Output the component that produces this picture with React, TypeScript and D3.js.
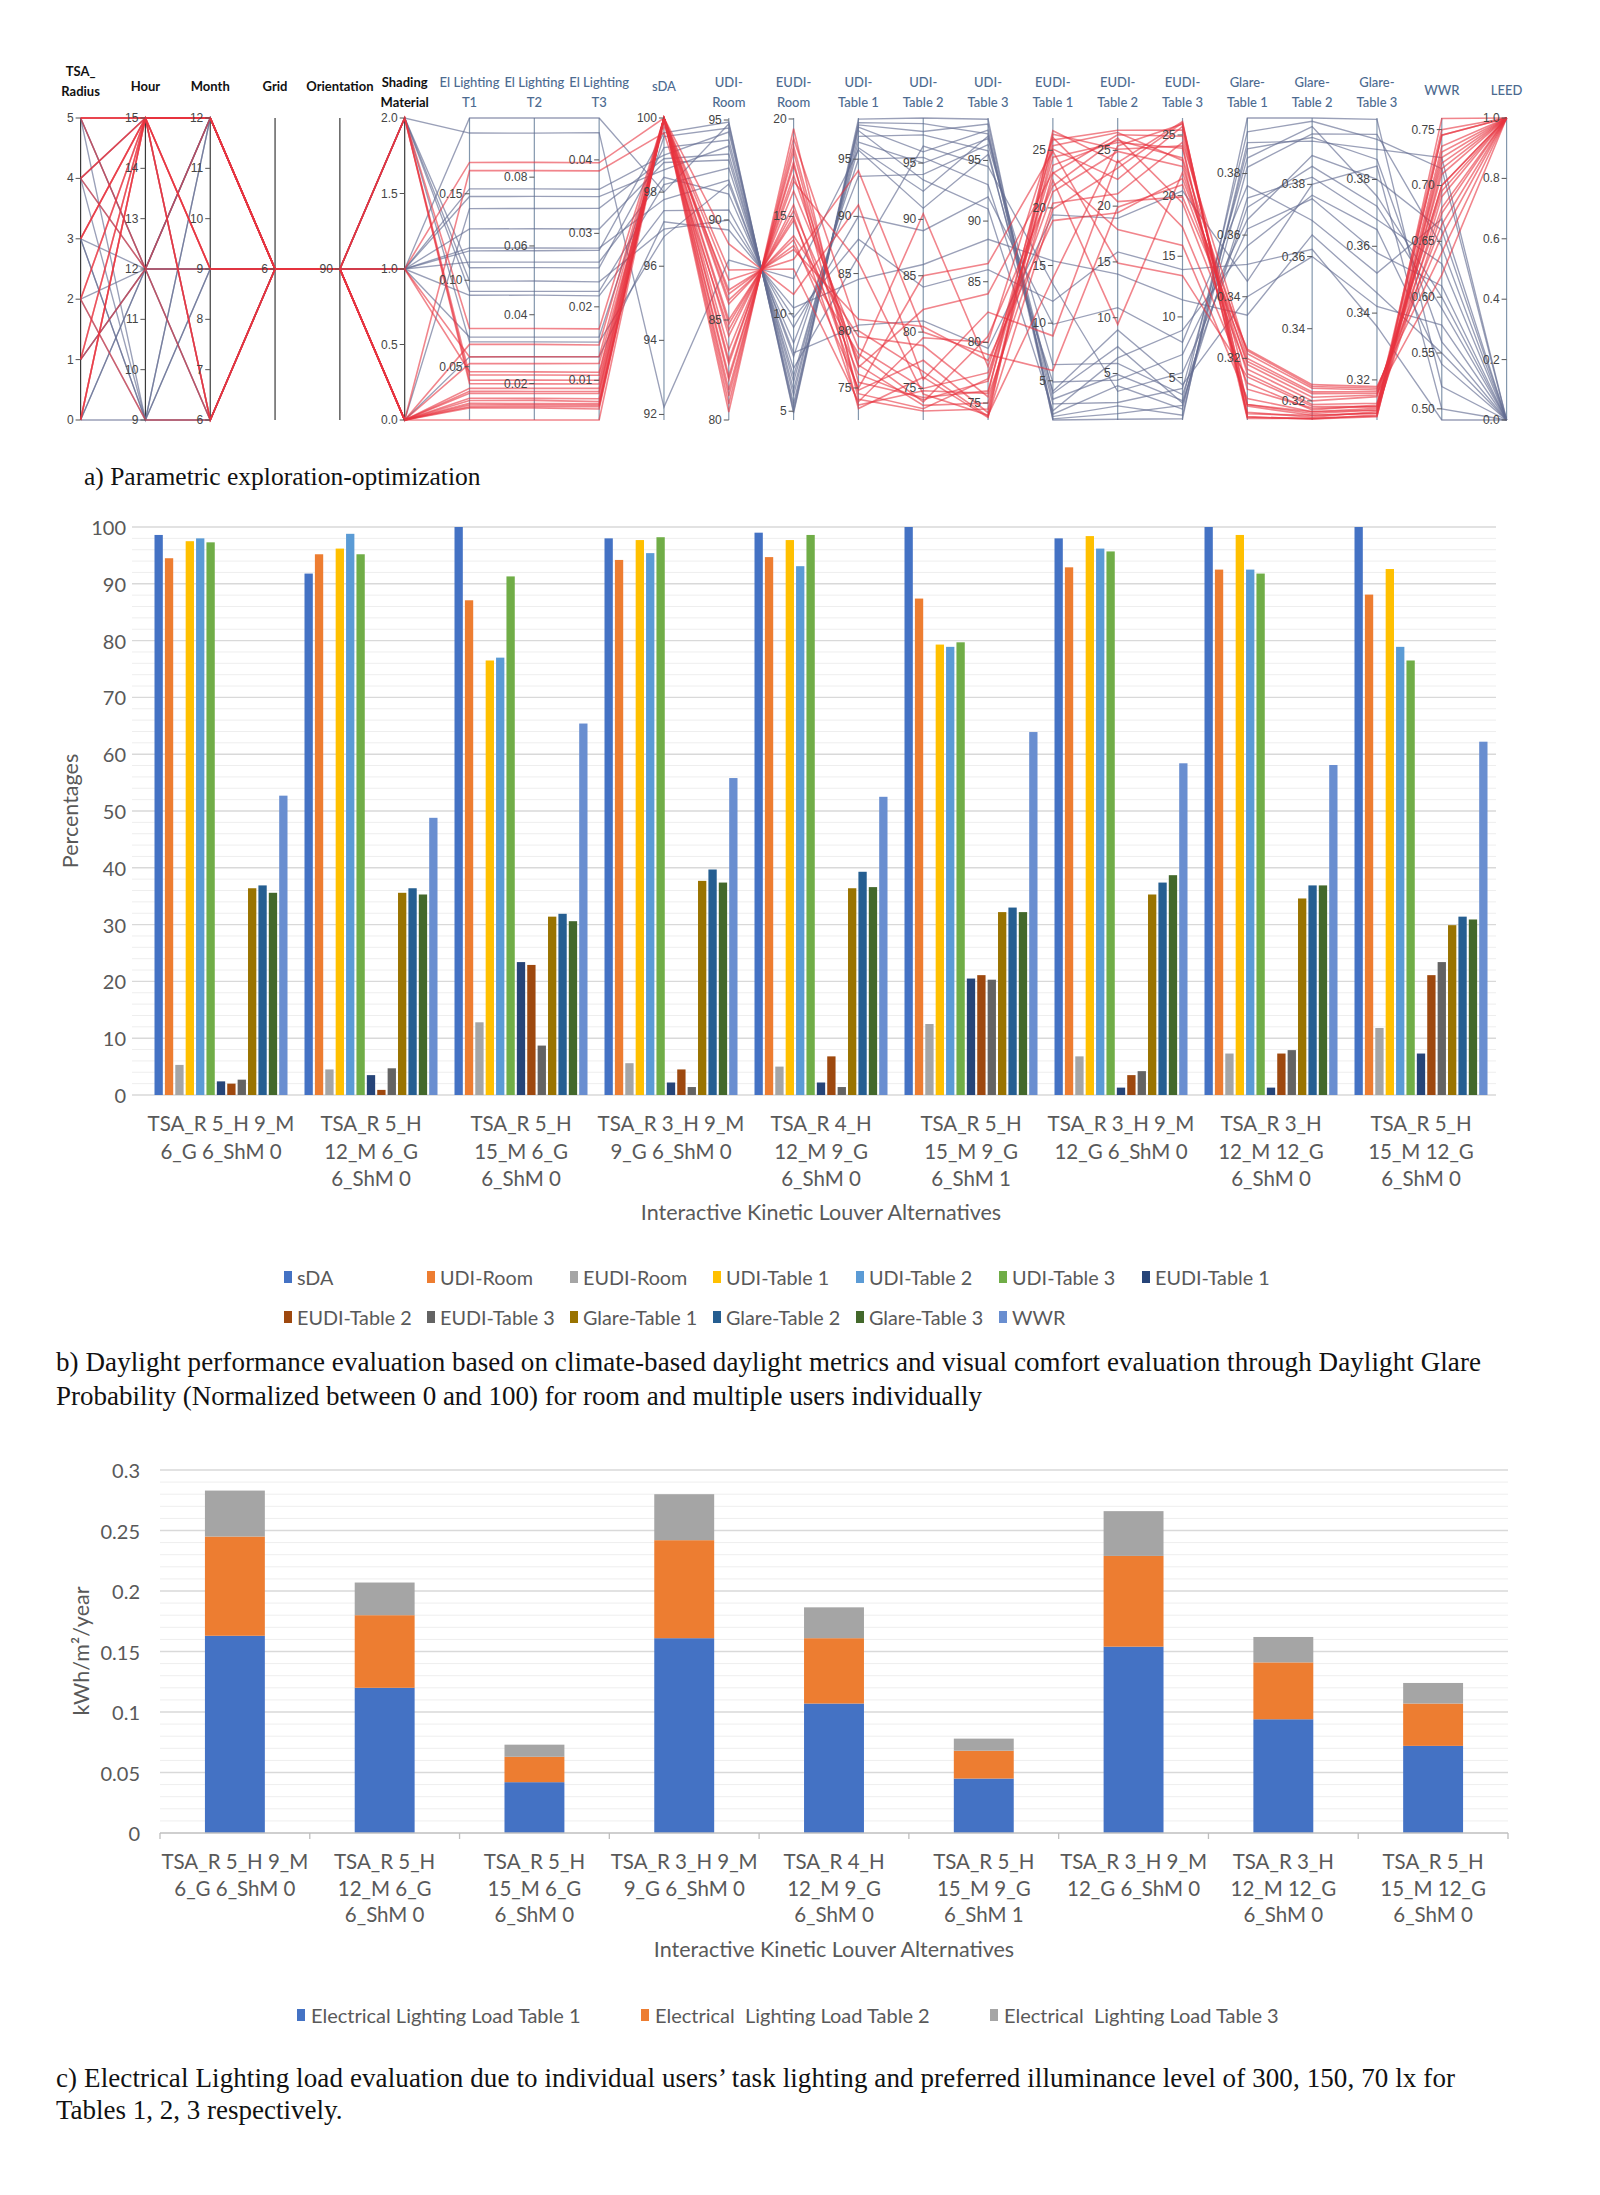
import React from 'react';
import * as d3 from 'd3';

// ---------------- Panel a: parallel coordinates ----------------
const pcLabels = [
  'TSA_\nRadius', 'Hour', 'Month', 'Grid', 'Orientation', 'Shading\nMaterial',
  'El Lighting\nT1', 'El Lighting\nT2', 'El Lighting\nT3', 'sDA', 'UDI-\nRoom', 'EUDI-\nRoom',
  'UDI-\nTable 1', 'UDI-\nTable 2', 'UDI-\nTable 3', 'EUDI-\nTable 1', 'EUDI-\nTable 2', 'EUDI-\nTable 3',
  'Glare-\nTable 1', 'Glare-\nTable 2', 'Glare-\nTable 3', 'WWR', 'LEED',
];
const pcDomains: [number, number][] = [
  [0, 5], [9, 15], [6, 12], [5, 7], [89, 91], [0, 2],
  [0.0192, 0.1938], [0.0094, 0.0972], [0.0046, 0.0457], [91.85, 100], [80, 95.1], [4.55, 20.05],
  [72.2, 98.6], [72.2, 99.0], [73.6, 98.5], [1.6, 27.8], [0.83, 27.9], [1.5, 26.4],
  [0.3, 0.398], [0.3147, 0.3984], [0.308, 0.3984], [0.49, 0.7604], [0, 1],
];
const pcTicks: number[][] = [
  [0, 1, 2, 3, 4, 5], [9, 10, 11, 12, 13, 14, 15], [6, 7, 8, 9, 10, 11, 12], [6], [90], [0, 0.5, 1, 1.5, 2],
  [0.05, 0.1, 0.15], [0.02, 0.04, 0.06, 0.08], [0.01, 0.02, 0.03, 0.04], [92, 94, 96, 98, 100], [80, 85, 90, 95], [5, 10, 15, 20],
  [75, 80, 85, 90, 95], [75, 80, 85, 90, 95], [75, 80, 85, 90, 95], [5, 10, 15, 20, 25], [5, 10, 15, 20, 25], [5, 10, 15, 20, 25],
  [0.32, 0.34, 0.36, 0.38], [0.32, 0.34, 0.36, 0.38], [0.32, 0.34, 0.36, 0.38], [0.5, 0.55, 0.6, 0.65, 0.7, 0.75], [0, 0.2, 0.4, 0.6, 0.8, 1],
];
const pcTickFormats = ['d', 'd', 'd', 'd', 'd', '.1f', '.2f', '.2f', '.2f', 'd', 'd', 'd', 'd', 'd', 'd', 'd', 'd', 'd', '.2f', '.2f', '.2f', '.2f', '.1f'];

// 20 LEED=1 designs followed by 16 LEED=0 designs
const tsaRadius = [5, 4, 3, 2, 1, 0, 5, 4, 3, 2, 1, 0, 5, 5, 3, 2, 4, 1, 0, 5, 5, 4, 3, 2, 1, 0, 5, 4, 3, 2, 1, 0, 5, 4, 3, 0];
const hourVals = [15, 15, 15, 15, 15, 15, 15, 15, 15, 15, 12, 15, 15, 12, 15, 9, 12, 15, 15, 15, 12, 12, 12, 12, 12, 12, 9, 9, 9, 9, 12, 9, 12, 15, 9, 12];
const monthVals = [12, 12, 9, 12, 6, 12, 9, 12, 6, 9, 12, 6, 12, 6, 12, 6, 9, 12, 9, 12, 9, 9, 12, 6, 9, 12, 6, 12, 9, 6, 12, 9, 12, 6, 12, 6];
const gridVals = [6, 6, 6, 6, 6, 6, 6, 6, 6, 6, 6, 6, 6, 6, 6, 6, 6, 6, 6, 6, 6, 6, 6, 6, 6, 6, 6, 6, 6, 6, 6, 6, 6, 6, 6, 6];
const orientationVals = [90, 90, 90, 90, 90, 90, 90, 90, 90, 90, 90, 90, 90, 90, 90, 90, 90, 90, 90, 90, 90, 90, 90, 90, 90, 90, 90, 90, 90, 90, 90, 90, 90, 90, 90, 90];
const shadingMaterial = [0, 0, 0, 0, 0, 0, 2, 2, 0, 1, 0, 2, 0, 1, 0, 0, 1, 2, 0, 0, 1, 1, 1, 1, 1, 1, 2, 2, 1, 1, 2, 0, 2, 0, 1, 2];
const elLightT1 = [0.0192, 0.0269, 0.0288, 0.0318, 0.0346, 0.0375, 0.0422, 0.0452, 0.0518, 0.0557, 0.0629, 0.0721, 0.1634, 0.1681, 0.0279, 0.0262, 0.0471, 0.0402, 0.0305, 0.0358,
  0.1938, 0.1528, 0.1484, 0.1297, 0.1187, 0.1105, 0.1072, 0.0936, 0.0913, 0.0672, 0.0644, 0.0557, 0.1851, 0.1414, 0.117, 0.0995];
const elLightT2 = [0.0094, 0.0133, 0.0142, 0.0157, 0.0171, 0.0186, 0.021, 0.0225, 0.0258, 0.0278, 0.0314, 0.036, 0.0819, 0.0843, 0.0138, 0.0129, 0.0234, 0.0199, 0.0151, 0.0177,
  0.0972, 0.0766, 0.0744, 0.065, 0.0594, 0.0553, 0.0537, 0.0468, 0.0457, 0.0335, 0.0321, 0.0278, 0.0928, 0.0709, 0.0586, 0.0498];
const elLightT3 = [0.0046, 0.0064, 0.0068, 0.0075, 0.0082, 0.0089, 0.01, 0.0107, 0.0123, 0.0132, 0.0148, 0.017, 0.0385, 0.0396, 0.0066, 0.0061, 0.0111, 0.0095, 0.0071, 0.0085,
  0.0457, 0.036, 0.035, 0.0306, 0.028, 0.0261, 0.0253, 0.0221, 0.0215, 0.0159, 0.0152, 0.0132, 0.0437, 0.0334, 0.0277, 0.0234];
const sdaVals = [100, 100, 100, 100, 100, 100, 100, 100, 99.8, 100, 100, 100, 99.6, 100, 100, 100, 100, 100, 100, 100,
  98.0, 99.0, 98.6, 98.8, 97.8, 98.4, 99.2, 98.2, 97.5, 99.5, 96.8, 97.2, 92.2, 98.9, 99.6, 97.0];
const udiRoom = [80.4, 81.2, 82.0, 82.8, 83.5, 84.2, 85.0, 85.8, 86.5, 87.5, 88.8, 86.0, 84.5, 83.0, 81.5, 80.8, 87.0, 82.2, 84.8, 86.3,
  94.8, 94.4, 93.7, 93.0, 92.0, 91.3, 94.0, 92.6, 90.5, 94.6, 91.8, 89.5, 88.0, 93.3, 94.9, 90.0];
const eudiRoom = [19.5, 18.6, 17.8, 17.1, 16.3, 15.6, 14.8, 14.0, 13.3, 12.3, 11.0, 13.8, 15.3, 16.8, 18.3, 19.0, 12.8, 17.6, 15.0, 13.5,
  5.0, 5.4, 6.1, 6.8, 7.8, 8.5, 5.8, 7.2, 9.3, 5.2, 8.0, 10.3, 11.8, 6.5, 4.9, 9.8];
const udiT1 = [74.0, 75.5, 73.2, 77.0, 78.5, 74.8, 76.2, 79.5, 81.0, 73.8, 91.0, 75.0, 77.5, 86.0, 74.5, 80.0, 94.0, 76.8, 73.5, 78.0,
  98.5, 97.8, 97.0, 96.0, 95.0, 93.5, 97.5, 86.5, 90.0, 98.0, 80.5, 84.5, 95.8, 96.5, 98.2, 88.0];
const udiT2 = [73.0, 74.2, 76.0, 73.5, 75.0, 77.5, 74.0, 78.8, 80.5, 79.5, 75.8, 85.0, 90.5, 74.5, 73.2, 76.5, 80.0, 82.0, 74.8, 73.8,
  99.0, 96.0, 97.5, 92.5, 95.5, 94.0, 93.5, 96.5, 89.0, 97.8, 81.0, 86.0, 91.0, 95.0, 98.5, 84.0];
const udiT3 = [74.5, 76.0, 73.8, 75.0, 77.5, 74.2, 76.8, 75.5, 78.5, 80.0, 82.5, 86.5, 78.0, 74.0, 77.0, 73.9, 79.0, 84.0, 75.8, 80.5,
  98.4, 97.5, 95.8, 97.0, 93.0, 96.3, 91.0, 94.5, 92.0, 98.0, 79.5, 88.5, 95.5, 96.8, 97.2, 86.0];
const eudiT1 = [25.9, 24.4, 26.7, 23.0, 21.4, 25.1, 23.7, 20.4, 18.9, 26.1, 8.9, 24.9, 22.4, 13.9, 25.4, 19.9, 5.9, 23.1, 26.4, 21.9,
  1.6, 2.1, 3.0, 3.9, 4.9, 6.4, 2.4, 13.4, 9.9, 1.9, 19.4, 15.4, 4.1, 3.4, 1.7, 11.9];
const eudiT2 = [26.8, 25.7, 23.9, 26.4, 24.9, 22.4, 25.9, 21.1, 19.4, 20.4, 24.1, 14.9, 9.4, 25.4, 26.6, 23.4, 19.9, 17.9, 25.1, 26.1,
  0.9, 3.9, 2.4, 7.4, 4.4, 5.9, 6.4, 3.4, 10.9, 2.1, 18.9, 13.9, 8.9, 4.9, 1.4, 15.9];
const eudiT3 = [25.4, 23.9, 26.1, 24.9, 22.4, 25.7, 23.1, 24.4, 21.4, 19.9, 17.4, 13.4, 21.9, 25.9, 22.9, 26.0, 20.9, 15.9, 24.1, 19.4,
  1.6, 2.4, 4.1, 2.9, 6.9, 3.6, 8.9, 5.4, 7.9, 1.9, 20.4, 11.4, 4.4, 3.1, 2.7, 13.9];
const glareT1 = [0.305, 0.302, 0.301, 0.31, 0.315, 0.3025, 0.32, 0.3215, 0.3225, 0.323, 0.312, 0.314, 0.318, 0.305, 0.3045, 0.301, 0.319, 0.307, 0.3005, 0.3165,
  0.398, 0.388, 0.385, 0.372, 0.365, 0.369, 0.3565, 0.362, 0.376, 0.39, 0.345, 0.334, 0.34, 0.3935, 0.382, 0.3505];
const glareT2 = [0.317, 0.316, 0.315, 0.318, 0.319, 0.3155, 0.3225, 0.3235, 0.324, 0.3245, 0.3175, 0.3185, 0.321, 0.3165, 0.316, 0.315, 0.322, 0.317, 0.3152, 0.32,
  0.3984, 0.393, 0.396, 0.382, 0.388, 0.385, 0.377, 0.376, 0.37, 0.392, 0.38, 0.366, 0.36, 0.3975, 0.394, 0.362];
const glareT3 = [0.311, 0.31, 0.3095, 0.312, 0.313, 0.3105, 0.3165, 0.317, 0.3175, 0.318, 0.3125, 0.312, 0.3155, 0.311, 0.31, 0.309, 0.316, 0.3115, 0.3092, 0.315,
  0.398, 0.386, 0.375, 0.368, 0.38, 0.372, 0.365, 0.358, 0.352, 0.389, 0.384, 0.346, 0.342, 0.392, 0.3935, 0.336];
const wwrVals = [0.745, 0.735, 0.725, 0.71, 0.7, 0.69, 0.68, 0.665, 0.655, 0.64, 0.75, 0.72, 0.7, 0.675, 0.76, 0.73, 0.62, 0.745, 0.715, 0.695,
  0.52, 0.56, 0.6, 0.63, 0.66, 0.59, 0.54, 0.61, 0.67, 0.725, 0.5, 0.55, 0.575, 0.715, 0.645, 0.49];
const leedVals = [1, 1, 1, 1, 1, 1, 1, 1, 1, 1, 1, 1, 1, 1, 1, 1, 1, 1, 1, 1, 0, 0, 0, 0, 0, 0, 0, 0, 0, 0, 0, 0, 0, 0, 0, 0];

const pcColumns = [tsaRadius, hourVals, monthVals, gridVals, orientationVals, shadingMaterial, elLightT1, elLightT2, elLightT3,
  sdaVals, udiRoom, eudiRoom, udiT1, udiT2, udiT3, eudiT1, eudiT2, eudiT3, glareT1, glareT2, glareT3, wwrVals, leedVals];

// ---------------- Panel b & c shared categories ----------------
const alternatives = [
  ['TSA_R 5_H 9_M', '6_G 6_ShM 0'],
  ['TSA_R 5_H', '12_M 6_G', '6_ShM 0'],
  ['TSA_R 5_H', '15_M 6_G', '6_ShM 0'],
  ['TSA_R 3_H 9_M', '9_G 6_ShM 0'],
  ['TSA_R 4_H', '12_M 9_G', '6_ShM 0'],
  ['TSA_R 5_H', '15_M 9_G', '6_ShM 1'],
  ['TSA_R 3_H 9_M', '12_G 6_ShM 0'],
  ['TSA_R 3_H', '12_M 12_G', '6_ShM 0'],
  ['TSA_R 5_H', '15_M 12_G', '6_ShM 0'],
];

// ---------------- Panel b data ----------------
const bSeries = ['sDA', 'UDI-Room', 'EUDI-Room', 'UDI-Table 1', 'UDI-Table 2', 'UDI-Table 3', 'EUDI-Table 1',
  'EUDI-Table 2', 'EUDI-Table 3', 'Glare-Table 1', 'Glare-Table 2', 'Glare-Table 3', 'WWR'];
const bColors = ['#4472C4', '#ED7D31', '#A5A5A5', '#FFC000', '#5B9BD5', '#70AD47', '#264478',
  '#9E480E', '#636363', '#997300', '#255E91', '#43682B', '#698ED0'];
const sdaB = [98.6, 91.8, 100, 98.0, 99.0, 100, 98.0, 100, 100];
const udiRoomB = [94.5, 95.2, 87.1, 94.2, 94.7, 87.4, 92.9, 92.5, 88.1];
const eudiRoomB = [5.3, 4.5, 12.8, 5.6, 5.0, 12.5, 6.8, 7.3, 11.8];
const udiT1B = [97.5, 96.2, 76.5, 97.7, 97.7, 79.3, 98.4, 98.6, 92.6];
const udiT2B = [98.0, 98.8, 77.0, 95.4, 93.1, 78.9, 96.2, 92.5, 78.9];
const udiT3B = [97.3, 95.2, 91.3, 98.2, 98.6, 79.7, 95.7, 91.8, 76.5];
const eudiT1B = [2.4, 3.5, 23.4, 2.2, 2.2, 20.5, 1.3, 1.3, 7.3];
const eudiT2B = [2.0, 0.9, 22.9, 4.5, 6.8, 21.1, 3.5, 7.3, 21.1];
const eudiT3B = [2.7, 4.7, 8.7, 1.4, 1.4, 20.3, 4.2, 7.9, 23.4];
const glareT1B = [36.4, 35.6, 31.4, 37.7, 36.4, 32.2, 35.3, 34.6, 29.9];
const glareT2B = [36.9, 36.4, 31.9, 39.7, 39.3, 33.0, 37.4, 36.9, 31.4];
const glareT3B = [35.6, 35.3, 30.6, 37.4, 36.6, 32.2, 38.7, 36.9, 30.9];
const wwrB = [52.7, 48.8, 65.4, 55.8, 52.5, 63.9, 58.4, 58.1, 62.2];
const bValues = [sdaB, udiRoomB, eudiRoomB, udiT1B, udiT2B, udiT3B, eudiT1B, eudiT2B, eudiT3B, glareT1B, glareT2B, glareT3B, wwrB];
const bTicks = [0, 10, 20, 30, 40, 50, 60, 70, 80, 90, 100];

// ---------------- Panel c data ----------------
const cSeries = ['Electrical Lighting Load Table 1', 'Electrical  Lighting Load Table 2', 'Electrical  Lighting Load Table 3'];
const cColors = ['#4472C4', '#ED7D31', '#A5A5A5'];
const loadT1 = [0.163, 0.120, 0.042, 0.161, 0.107, 0.045, 0.154, 0.094, 0.072];
const loadT2 = [0.082, 0.060, 0.021, 0.081, 0.054, 0.023, 0.075, 0.047, 0.035];
const loadT3 = [0.038, 0.027, 0.010, 0.038, 0.0255, 0.010, 0.037, 0.021, 0.017];
const cTicks = [0, 0.05, 0.1, 0.15, 0.2, 0.25, 0.3];
const cTickLabels = ['0', '0.05', '0.1', '0.15', '0.2', '0.25', '0.3'];

const XL = "Lato, 'Open Sans', 'Noto Sans', sans-serif";
const SERIF = "'Liberation Serif', 'Times New Roman', serif";
const GREY = '#595959';

function ParallelPanel() {
  const x = d3.scalePoint<number>().domain(d3.range(pcLabels.length)).range([80.6, 1506.6]);
  const ys = pcDomains.map((d) => d3.scaleLinear().domain(d).range([420, 118]));
  const n = leedVals.length;
  const rows = d3.range(n).map((i) => pcColumns.map((c) => c[i]));
  const line = d3.line<number>().x((_, j) => x(j) as number).y((v, j) => ys[j](v));
  const order = d3.range(n).sort((a, b) => leedVals[a] - leedVals[b]);
  return (
    <g>
      {pcLabels.map((_, j) => (
        <line key={'ax' + j} x1={x(j)} x2={x(j)} y1={118} y2={420} stroke={j < 6 ? '#3a3a3a' : '#8397ad'} strokeWidth={1.2} />
      ))}
      {order.map((i) => (
        <path key={i} d={line(rows[i]) || ''} fill="none"
          stroke={leedVals[i] === 1 ? '#e8343f' : '#646d92'}
          strokeOpacity={leedVals[i] === 1 ? 0.6 : 0.65}
          strokeWidth={leedVals[i] === 1 ? 1.6 : 1.35} />
      ))}
      {pcLabels.map((lab, j) => {
        const xx = x(j) as number;
        const dark = j < 6;
        const fmt = d3.format(pcTickFormats[j]);
        const lines = lab.split('\n');
        const ly = j === 0 ? [76, 96] : lines.length === 2 ? [87, 107] : [j >= 21 ? 95 : 91];
        return (
          <g key={j}>
            {pcTicks[j].map((t) => (
              <g key={t}>
                <line x1={xx - 5} x2={xx} y1={ys[j](t)} y2={ys[j](t)} stroke="#555" strokeWidth={1} />
                <text x={xx - 7} y={ys[j](t)} fontSize={12} fill="#444" textAnchor="end" dominantBaseline="central"
                  fontFamily="'Liberation Sans', Arial, sans-serif">{fmt(t)}</text>
              </g>
            ))}
            <text x={xx} textAnchor="middle" fontFamily={XL} fontSize={13}
              fontWeight={dark ? 700 : 500} fill={dark ? '#111' : '#4c6a90'}>
              {lines.map((s, k) => (
                <tspan key={k} x={xx} y={ly[k]}>{s}</tspan>
              ))}
            </text>
          </g>
        );
      })}
    </g>
  );
}

function DaylightPanel() {
  const x0 = d3.scaleBand<number>().domain(d3.range(alternatives.length)).range([146, 1496]);
  const x1 = d3.scaleBand<number>().domain(d3.range(bSeries.length)).range([8.5, 141.5]).paddingInner(0.2);
  const y = d3.scaleLinear().domain([0, 100]).range([1095, 527]);
  const minor = d3.range(0, 101, 2).filter((v) => v % 10 !== 0);
  return (
    <g>
      {minor.map((v) => (
        <line key={'m' + v} x1={132} x2={1496} y1={y(v)} y2={y(v)} stroke="#eeeeee" strokeWidth={1} />
      ))}
      {bTicks.map((v) => (
        <line key={'g' + v} x1={132} x2={1496} y1={y(v)} y2={y(v)} stroke="#d9d9d9" strokeWidth={1.4} />
      ))}
      {bTicks.map((v) => (
        <text key={'t' + v} x={126} y={y(v)} fontSize={20} fill={GREY} textAnchor="end" dominantBaseline="central" fontFamily={XL}>{v}</text>
      ))}
      {alternatives.map((_, ci) => (
        <g key={ci} transform={`translate(${x0(ci)},0)`}>
          {bValues.map((vals, si) => (
            <rect key={si} x={x1(si)} width={x1.bandwidth()} y={y(vals[ci])} height={y(0) - y(vals[ci])} fill={bColors[si]} />
          ))}
        </g>
      ))}
      {alternatives.map((lines, ci) => (
        <text key={'c' + ci} textAnchor="middle" fontSize={20.5} fill={GREY} fontFamily={XL}>
          {lines.map((s, k) => (
            <tspan key={k} x={(x0(ci) as number) + x0.bandwidth() / 2} y={1123 + k * 27.5} dominantBaseline="central">{s}</tspan>
          ))}
        </text>
      ))}
      <text x={821} y={1212} textAnchor="middle" dominantBaseline="central" fontSize={21.5} fill={GREY} fontFamily={XL}>Interactive Kinetic Louver Alternatives</text>
      <text transform="translate(70,811) rotate(-90)" textAnchor="middle" dominantBaseline="central" fontSize={21.5} fill={GREY} fontFamily={XL}>Percentages</text>
      {bSeries.map((s, i) => {
        const lx = 284 + (i % 7) * 143;
        const ly = 1277 + Math.floor(i / 7) * 40;
        return (
          <g key={s}>
            <rect x={lx} y={ly - 6} width={8} height={12} fill={bColors[i]} />
            <text x={lx + 13} y={ly} dominantBaseline="central" fontSize={19.8} fill={GREY} fontFamily={XL}>{s}</text>
          </g>
        );
      })}
    </g>
  );
}

function LoadPanel() {
  const x = d3.scaleBand<number>().domain(d3.range(alternatives.length)).range([160, 1508]).paddingInner(0.6).paddingOuter(0.3);
  const y = d3.scaleLinear().domain([0, 0.3]).range([1833, 1470]);
  const table = alternatives.map((_, i) => ({ i, a: loadT1[i], b: loadT2[i], c: loadT3[i] }));
  const stack = d3.stack<any>().keys(['a', 'b', 'c'])(table);
  const minor = d3.range(1, 30).filter((k) => k % 5 !== 0).map((k) => k / 100);
  const step = (1508 - 160) / alternatives.length;
  return (
    <g>
      {minor.map((v) => (
        <line key={'m' + v} x1={160} x2={1508} y1={y(v)} y2={y(v)} stroke="#eeeeee" strokeWidth={1} />
      ))}
      {cTicks.slice(1).map((v) => (
        <line key={'g' + v} x1={160} x2={1508} y1={y(v)} y2={y(v)} stroke="#d9d9d9" strokeWidth={1.4} />
      ))}
      {cTicks.map((v, k) => (
        <text key={'t' + v} x={140} y={y(v)} fontSize={20} fill={GREY} textAnchor="end" dominantBaseline="central" fontFamily={XL}>{cTickLabels[k]}</text>
      ))}
      {stack.map((layer, si) => (
        <g key={si} fill={cColors[si]}>
          {layer.map((d, ci) => (
            <rect key={ci} x={x(ci)} width={x.bandwidth()} y={y(d[1])} height={y(d[0]) - y(d[1])} />
          ))}
        </g>
      ))}
      <line x1={160} x2={1508} y1={y(0)} y2={y(0)} stroke="#bfbfbf" strokeWidth={1.3} />
      {d3.range(alternatives.length + 1).map((k) => (
        <line key={'k' + k} x1={160 + k * step} x2={160 + k * step} y1={y(0)} y2={y(0) + 6} stroke="#bfbfbf" strokeWidth={1.3} />
      ))}
      {alternatives.map((lines, ci) => (
        <text key={'c' + ci} textAnchor="middle" fontSize={20.5} fill={GREY} fontFamily={XL}>
          {lines.map((s, k) => (
            <tspan key={k} x={(x(ci) as number) + x.bandwidth() / 2} y={1861 + k * 26.5} dominantBaseline="central">{s}</tspan>
          ))}
        </text>
      ))}
      <text x={834} y={1949} textAnchor="middle" dominantBaseline="central" fontSize={21.5} fill={GREY} fontFamily={XL}>Interactive Kinetic Louver Alternatives</text>
      <text transform="translate(81,1651) rotate(-90)" textAnchor="middle" dominantBaseline="central" fontSize={21.5} fill={GREY} fontFamily={XL}>kWh/m²/year</text>
      {cSeries.map((s, i) => {
        const lx = [297, 641, 990][i];
        return (
          <g key={s}>
            <rect x={lx} y={2015 - 6} width={8} height={12} fill={cColors[i]} />
            <text x={lx + 14} y={2015} dominantBaseline="central" fontSize={20} fill={GREY} fontFamily={XL} style={{ whiteSpace: 'pre' }}>{s}</text>
          </g>
        );
      })}
    </g>
  );
}

export default function App() {
  return (
    <svg width={1600} height={2195} viewBox="0 0 1600 2195" style={{ position: 'absolute', left: 0, top: 0, background: '#fff' }}>
      <rect width={1600} height={2195} fill="#fff" />
      <ParallelPanel />
      <text x={84} y={485} fontSize={25.5} fontFamily={SERIF} fill="#111">a) Parametric exploration-optimization</text>
      <DaylightPanel />
      <text fontSize={27} fontFamily={SERIF} fill="#111">
        <tspan x={56} y={1371} textLength={1425} lengthAdjust="spacing">b) Daylight performance evaluation based on climate-based daylight metrics and visual comfort evaluation through Daylight Glare</tspan>
        <tspan x={56} y={1405}>Probability (Normalized between 0 and 100) for room and multiple users individually</tspan>
      </text>
      <LoadPanel />
      <text fontSize={27} fontFamily={SERIF} fill="#111">
        <tspan x={56} y={2087} textLength={1399} lengthAdjust="spacing">c) Electrical Lighting load evaluation due to individual users’ task lighting and preferred illuminance level of 300, 150, 70 lx for</tspan>
        <tspan x={56} y={2119}>Tables 1, 2, 3 respectively.</tspan>
      </text>
    </svg>
  );
}
